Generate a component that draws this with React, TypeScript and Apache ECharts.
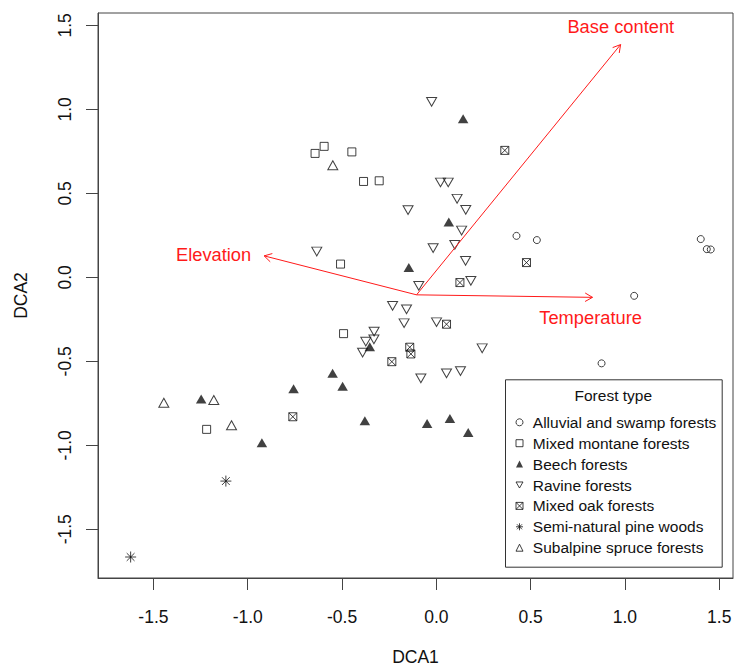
import React, { useEffect, useRef } from 'react';
import * as echarts from 'echarts';

// ---- Data (DCA site scores) ----
const seriesNames = [
  'Alluvial and swamp forests',
  'Mixed montane forests',
  'Beech forests',
  'Ravine forests',
  'Mixed oak forests',
  'Semi-natural pine woods',
  'Subalpine spruce forests',
];

const alluvialX = [0.425, 0.533, 1.402, 1.434, 1.455, 1.049, 0.876];
const alluvialY = [0.247, 0.222, 0.228, 0.168, 0.166, -0.110, -0.512];

const montaneX = [-0.643, -0.595, -0.448, -0.386, -0.303, -0.508, -0.492, -1.218];
const montaneY = [0.738, 0.780, 0.747, 0.571, 0.575, 0.079, -0.335, -0.905];

const beechX = [0.142, 0.066, -0.146, -0.353, -0.550, -0.497, -0.757, -0.379, -1.247, -0.925, -0.049, 0.072, 0.169];
const beechY = [0.945, 0.329, 0.058, -0.413, -0.571, -0.649, -0.663, -0.854, -0.724, -0.985, -0.870, -0.840, -0.923];

const ravineX = [-0.025, 0.022, 0.063, 0.110, 0.156, -0.150, 0.134, 0.098, -0.017, -0.634, 0.155, 0.183, -0.093,
  -0.232, -0.158, -0.171, 0.001, -0.330, -0.331, -0.374, -0.391, 0.243, -0.082, 0.054, 0.128];
const ravineY = [1.045, 0.565, 0.565, 0.468, 0.402, 0.401, 0.279, 0.194, 0.174, 0.154, 0.098, -0.021, -0.051,
  -0.170, -0.190, -0.273, -0.267, -0.323, -0.369, -0.383, -0.448, -0.422, -0.601, -0.571, -0.558];

const oakX = [0.363, 0.478, 0.125, 0.054, -0.141, -0.135, -0.236, -0.761];
const oakY = [0.756, 0.088, -0.031, -0.279, -0.416, -0.456, -0.502, -0.830];

const pineX = [-1.116, -1.621];
const pineY = [-1.213, -1.665];

const spruceX = [-0.549, -1.445, -1.180, -1.086];
const spruceY = [0.667, -0.747, -0.730, -0.881];

// Environmental vectors
const arrowNames = ['Base content', 'Temperature', 'Elevation'];
const arrowOrigin = [-0.105, -0.104];
const arrowX = [0.977, 0.828, -0.913];
const arrowY = [1.386, -0.119, 0.128];
const arrowLabelX = [0.978, 0.818, -1.181];
const arrowLabelY = [1.491, -0.239, 0.134];

const tickValues = [-1.5, -1.0, -0.5, 0.0, 0.5, 1.0, 1.5];

// ---- Styles ----
const FONT = 'Liberation Sans, Arial, sans-serif';
const RED = '#ff1a1a';
const INK = '#111111';
const AXIS = '#444444';

const TRI_DOWN = 'path://M0,0L10,0L5,8.66Z';
const BOX_X = 'path://M0,0L10,0L10,10L0,10Z M0,0L10,10 M10,0L0,10';
const STAR = 'path://M5,0L5,10 M0,5L10,5 M1.46,1.46L8.54,8.54 M8.54,1.46L1.46,8.54';

const zip = (xs: number[], ys: number[]) => xs.map((x, i) => [x, ys[i]]);

export default function App() {
  const ref = useRef<HTMLDivElement>(null);

  useEffect(() => {
    if (!ref.current) return;
    const chart = echarts.init(ref.current, undefined, { renderer: 'svg' });

    const openStyle = { color: 'transparent', borderColor: INK, borderWidth: 1 };
    const filledStyle = { color: INK, borderColor: INK, borderWidth: 0 };

    const symbols = ['circle', 'rect', 'triangle', TRI_DOWN, BOX_X, STAR, 'triangle'];
    const styles = [openStyle, openStyle, filledStyle, openStyle, openStyle, openStyle, openStyle];
    const sizes: any[] = [7, 8, [10.5, 9], [10, 8.7], 8, 11, [10, 9]];
    const xs = [alluvialX, montaneX, beechX, ravineX, oakX, pineX, spruceX];
    const ys = [alluvialY, montaneY, beechY, ravineY, oakY, pineY, spruceY];

    const axisCommon = {
      type: 'value' as const,
      splitLine: { show: false },
      axisLine: { show: true, onZero: false, lineStyle: { color: AXIS, width: 1 } },
      axisTick: { show: true, length: 12, customValues: tickValues, lineStyle: { color: AXIS, width: 1 } },
      nameLocation: 'middle' as const,
      nameTextStyle: { fontFamily: FONT, fontSize: 17.5, color: INK },
    };

    const option: any = {
      animation: false,
      backgroundColor: '#ffffff',
      grid: {
        left: 98, right: 1, top: 13, bottom: 90,
        containLabel: false,
        outerBoundsMode: 'none',
        show: true, borderColor: AXIS, borderWidth: 1, backgroundColor: 'transparent',
      },
      xAxis: {
        ...axisCommon,
        min: -1.794, max: 1.573,
        name: 'DCA1', nameGap: 70,
        axisLabel: {
          customValues: tickValues, margin: 30,
          formatter: (v: number) => v.toFixed(1),
          fontFamily: FONT, fontSize: 17.5, color: INK,
        },
      },
      yAxis: {
        ...axisCommon,
        min: -1.790, max: 1.574,
        name: 'DCA2', nameGap: 68,
        axisLabel: {
          customValues: tickValues, margin: 24, rotate: 90,
          formatter: (v: number) => v.toFixed(1),
          fontFamily: FONT, fontSize: 17.5, color: INK,
        },
      },
      legend: {
        data: seriesNames.map((name, i) => ({
          name,
          icon: symbols[i],
          itemStyle: { ...styles[i], borderWidth: styles[i] === filledStyle ? 0 : 1 },
        })),
        orient: 'vertical',
        left: 515.5, top: 414.3,
        padding: 0,
        itemWidth: 7, itemHeight: 7,
        itemGap: 4.9,
        textStyle: { fontFamily: FONT, fontSize: 15.5, lineHeight: 16, color: INK, padding: [0, 0, 0, 4.8] },
        selectedMode: false,
      },
      graphic: [
        {
          type: 'rect', left: 505, top: 379.3, z: -1,
          shape: { width: 216.7, height: 187.4 },
          style: { fill: '#ffffff', stroke: '#333333', lineWidth: 1 },
        },
        {
          type: 'text', x: 613.3, y: 395,
          style: { text: 'Forest type', fontFamily: FONT, fontSize: 15.5, fill: INK, align: 'center', verticalAlign: 'middle' },
        },
      ],
      series: [
        ...seriesNames.map((name, i) => ({
          name,
          type: 'scatter',
          symbol: symbols[i],
          symbolSize: sizes[i],
          itemStyle: styles[i],
          data: zip(xs[i], ys[i]),
        })),
        {
          name: 'Environmental variables',
          type: 'custom',
          clip: false,
          z: 5,
          data: arrowX.map((x, i) => [x, arrowY[i], arrowLabelX[i], arrowLabelY[i]]),
          renderItem: (params: any, api: any) => {
            const o = api.coord(arrowOrigin);
            const t = api.coord([api.value(0), api.value(1)]);
            const l = api.coord([api.value(2), api.value(3)]);
            const ang = Math.atan2(t[1] - o[1], t[0] - o[0]);
            const h = 8.5;
            const a = Math.PI / 6;
            const p1 = [t[0] - h * Math.cos(ang - a), t[1] - h * Math.sin(ang - a)];
            const p2 = [t[0] - h * Math.cos(ang + a), t[1] - h * Math.sin(ang + a)];
            return {
              type: 'group',
              children: [
                { type: 'line', shape: { x1: o[0], y1: o[1], x2: t[0], y2: t[1] }, style: { stroke: RED, lineWidth: 1 } },
                { type: 'polyline', shape: { points: [p1, t, p2] }, style: { stroke: RED, lineWidth: 1, fill: null } },
                {
                  type: 'text', x: l[0], y: l[1],
                  style: {
                    text: arrowNames[params.dataIndex], fill: RED, fontFamily: FONT, fontSize: 18.3,
                    align: 'center', verticalAlign: 'middle',
                  },
                },
              ],
            };
          },
        },
      ],
    };

    chart.setOption(option);
    return () => chart.dispose();
  }, []);

  return <div ref={ref} style={{ position: 'absolute', left: 0, top: 0, width: 734, height: 668 }} />;
}
